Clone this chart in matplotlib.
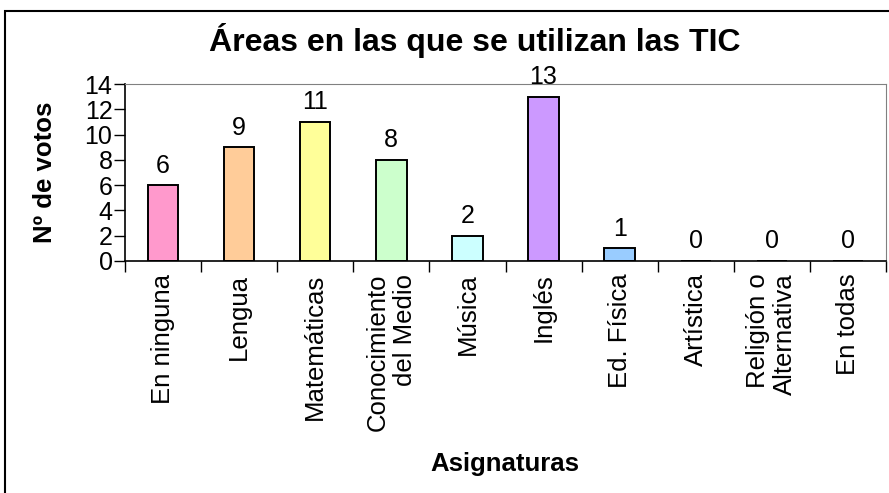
import matplotlib.pyplot as plt
from matplotlib.patches import Rectangle
import numpy as np

# datos
asignaturas = ["En ninguna", "Lengua", "Matemáticas", "Conocimiento\ndel Medio", "Música",
               "Inglés", "Ed. Física", "Artística", "Religión o\nAlternativa", "En todas"]
votos = [6, 9, 11, 8, 2, 13, 1, 0, 0, 0]
colores = ["#FF99CC", "#FFCC99", "#FFFF99", "#CCFFCC", "#CCFFFF",
           "#CC99FF", "#99CCFF", "#FFFFFF", "#FFFFFF", "#FFFFFF"]

plt.rcParams['font.family'] = ['Liberation Sans', 'DejaVu Sans']

fig = plt.figure(figsize=(8.89, 4.93), dpi=100)
ax = fig.add_axes([125/889, 1 - 261/493, (886-125)/889, (261-84)/493])

x = np.arange(len(asignaturas))
ax.bar(x, votos, width=0.4, color=colores, edgecolor="black", linewidth=1.4)
for xi, v in zip(x, votos):
    ax.text(xi, v + 0.6, str(v), ha="center", va="bottom", fontsize=18)

ax.set_xlim(-0.5, len(asignaturas) - 0.5)
ax.set_ylim(0, 14)
ax.set_yticks(range(0, 15, 2))
ax.tick_params(axis="y", labelsize=18, length=8, width=1, direction="out", pad=1)

ax.set_xticks(x)
ax.set_xticklabels(asignaturas, rotation=90, fontsize=18.5, linespacing=1.15,
                   multialignment="right")
ax.tick_params(axis="x", which="major", length=0, pad=9)
ax.set_xticks(np.arange(-0.5, len(asignaturas), 1), minor=True)
ax.tick_params(axis="x", which="minor", length=8, width=1, direction="out")

for s in ["top", "right"]:
    ax.spines[s].set_color("#808080")
ax.spines["left"].set_linewidth(1.2)
ax.spines["bottom"].set_linewidth(1.2)

fig.text(475/889, 1 - 40/493, "Áreas en las que se utilizan las TIC", ha="center", va="center",
         fontsize=23, fontweight="bold")
fig.text(505/889, 1 - 464/493, "Asignaturas", ha="center", va="center",
         fontsize=18.5, fontweight="bold")
fig.text(45/889, 1 - 172/493, "Nº de votos", ha="center", va="center", rotation=90,
         fontsize=18.5, fontweight="bold")

fig.patches.append(Rectangle((5/889, -0.1), 1.2, 1.1 - 11/493, transform=fig.transFigure,
                             fill=False, edgecolor="black", linewidth=1.5, figure=fig))

fig.savefig("out.png", dpi=100)
